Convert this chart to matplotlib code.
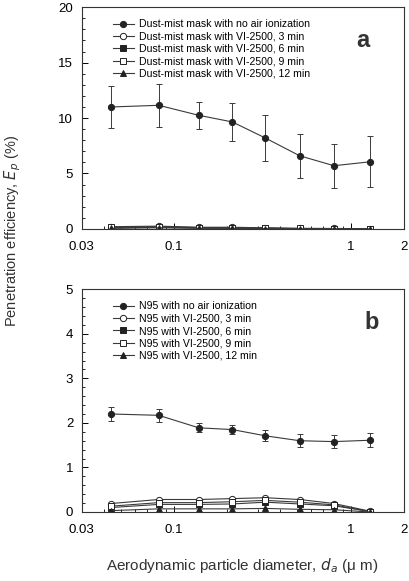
import matplotlib
matplotlib.use("Agg")
import matplotlib.pyplot as plt
from matplotlib.ticker import FixedLocator, NullFormatter, FixedFormatter, MultipleLocator

plt.rcParams['font.family'] = ['Liberation Sans', 'DejaVu Sans']

diam = [0.044, 0.082, 0.138, 0.214, 0.329, 0.514, 0.804, 1.28]

# Panel a: dust-mist mask
a_labels = ["Dust-mist mask with no air ionization",
            "Dust-mist mask with VI-2500, 3 min",
            "Dust-mist mask with VI-2500, 6 min",
            "Dust-mist mask with VI-2500, 9 min",
            "Dust-mist mask with VI-2500, 12 min"]
a_none = [11.0, 11.15, 10.25, 9.65, 8.2, 6.6, 5.7, 6.05]
a_none_err = [1.9, 1.95, 1.2, 1.7, 2.1, 2.0, 2.0, 2.3]
a_3 = [0.2, 0.25, 0.15, 0.15, 0.1, 0.05, 0.04, 0.02]
a_6 = [0.1, 0.15, 0.08, 0.08, 0.05, 0.02, 0.02, 0.01]
a_9 = [0.15, 0.2, 0.12, 0.12, 0.08, 0.04, 0.03, 0.02]
a_12 = [0.05, 0.1, 0.05, 0.05, 0.03, 0.01, 0.01, 0.0]

# Panel b: N95
b_labels = ["N95 with no air ionization",
            "N95 with VI-2500, 3 min",
            "N95 with VI-2500, 6 min",
            "N95 with VI-2500, 9 min",
            "N95 with VI-2500, 12 min"]
b_none = [2.20, 2.17, 1.89, 1.85, 1.71, 1.60, 1.58, 1.61]
b_none_err = [0.15, 0.15, 0.10, 0.11, 0.12, 0.15, 0.15, 0.16]
b_3 = [0.19, 0.28, 0.28, 0.30, 0.32, 0.28, 0.19, 0.02]
b_6 = [0.10, 0.17, 0.17, 0.18, 0.22, 0.18, 0.14, 0.01]
b_9 = [0.13, 0.21, 0.21, 0.23, 0.26, 0.22, 0.16, 0.01]
b_12 = [0.03, 0.07, 0.07, 0.07, 0.08, 0.06, 0.05, 0.0]

xticks = [0.03, 0.1, 1, 2]
xticklabels = ["0.03", "0.1", "1", "2"]

fig = plt.figure(figsize=(4.1, 5.81), dpi=100)
ax1 = fig.add_axes([0.199, 0.606, 0.786, 0.3816])
ax2 = fig.add_axes([0.199, 0.1188, 0.786, 0.3833])

lc = '#3a3a3a'
ec = '#222222'
mk = dict(color=lc, lw=0.8, ms=4.5, markeredgewidth=0.7)
styles = [('o', ec), ('o', 'white'), ('s', ec), ('s', 'white'), ('^', ec)]

def draw(ax, labels, none, err, s3, s6, s9, s12, ymax, letter, lx, ly):
    ax.errorbar(diam, none, yerr=err, fmt='none', ecolor=lc,
                capsize=2.5, elinewidth=0.7, capthick=0.7)
    series = [none, s3, s6, s9, s12]
    handles = []
    for vals, (m, fc), lab in zip(series, styles, labels):
        h, = ax.plot(diam, vals, marker=m, mfc=fc, mec=ec, label=lab, **mk)
        handles.append(h)
    ax.set_xscale('log')
    ax.set_xlim(0.03, 2)
    ax.set_ylim(0, ymax)
    ax.xaxis.set_major_locator(FixedLocator(xticks))
    ax.xaxis.set_major_formatter(FixedFormatter(xticklabels))
    ax.xaxis.set_minor_locator(FixedLocator([0.04, 0.05, 0.06, 0.07, 0.08, 0.09,
                                             0.2, 0.3, 0.4, 0.5, 0.6, 0.7, 0.8, 0.9]))
    ax.xaxis.set_minor_formatter(NullFormatter())
    ax.yaxis.set_major_locator(MultipleLocator(5 if ymax == 20 else 1))
    ax.yaxis.set_minor_locator(MultipleLocator(1 if ymax == 20 else 0.2))
    ax.tick_params(which='major', direction='in', length=4, width=0.7, labelsize=9.5)
    ax.tick_params(axis='x', which='major', pad=9)
    ax.tick_params(axis='y', which='major', pad=6)
    ax.tick_params(which='minor', direction='in', length=2, width=0.6)
    for sp in ax.spines.values():
        sp.set_linewidth(0.8)
        sp.set_color('#333333')
    ax.legend(handles=handles, loc='upper left', bbox_to_anchor=(0.09, 0.955), frameon=False,
              fontsize=7.6, handlelength=2.0, labelspacing=0.22, handletextpad=0.5,
              borderaxespad=0.0, borderpad=0.2)
    ax.text(lx, ly, letter, transform=ax.transAxes, fontsize=17, fontweight='bold',
            ha='center', va='center', color='#333333')

draw(ax1, a_labels, a_none, a_none_err, a_3, a_6, a_9, a_12, 20, 'a', 0.873, 0.848)
draw(ax2, b_labels, b_none, b_none_err, b_3, b_6, b_9, b_12, 5, 'b', 0.90, 0.85)

fig.text(0.032, 0.602, r'Penetration efficiency, $E_p$ (%)', rotation=90,
         ha='center', va='center', fontsize=10.5, color='#333333')
fig.text(0.59, 0.027, 'Aerodynamic particle diameter, $d_a$ (\u03bc m)',
         ha='center', va='center', fontsize=11, color='#333333')

fig.savefig('out.png', dpi=100)
